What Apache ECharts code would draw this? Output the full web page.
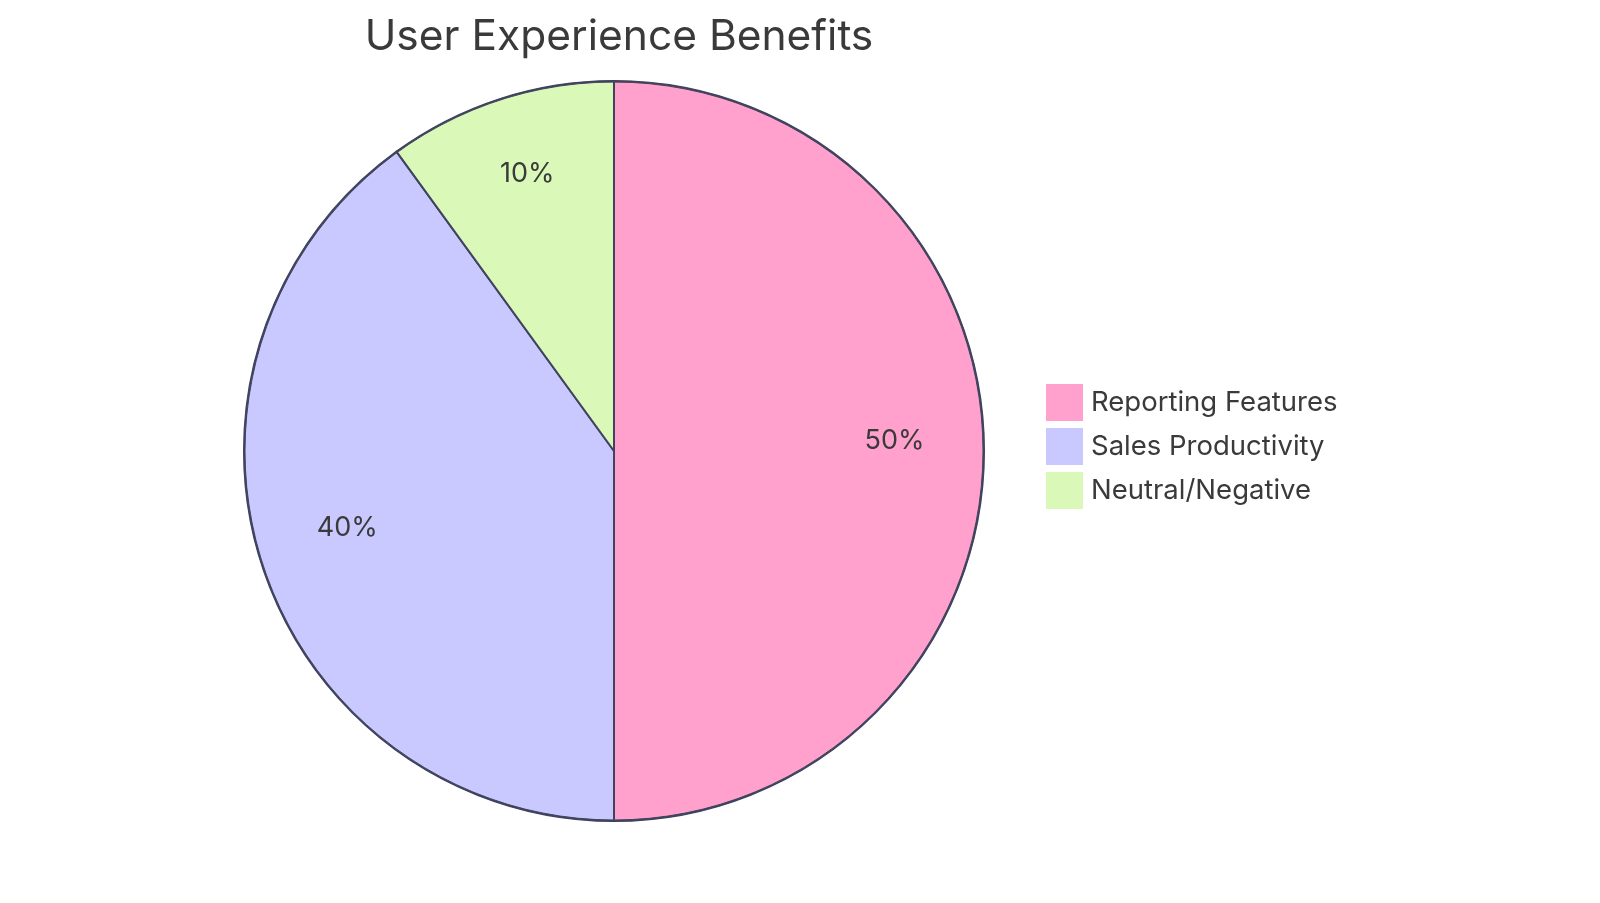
<!DOCTYPE html>
<html>
<head>
<meta charset="utf-8">
<script src="https://cdn.jsdelivr.net/npm/echarts@6/dist/echarts.min.js"></script>
<style>
  html, body { margin: 0; padding: 0; background: #fff; }
  #chart { width: 1600px; height: 903px; }
</style>
</head>
<body>
<div id="chart"></div>
<script>
// chart data
var titleText = 'User Experience Benefits';
var categories = ['Reporting Features', 'Sales Productivity', 'Neutral/Negative'];
var values = [50, 40, 10];
var colors = ['#FFA1CC', '#C9C9FF', '#DAF9B9'];

var FONT = 'Inter, "Noto Sans", sans-serif';
var TEXT = '#3a3a3a';
var STROKE = '#40435e';

var chart = echarts.init(document.getElementById('chart'));

var total = values.reduce(function (a, b) { return a + b; }, 0);
var sliceData = categories.map(function (name, i) {
    return { name: name, value: values[i], itemStyle: { color: colors[i] } };
});

chart.setOption({
    animation: false,
    title: {
        text: titleText,
        left: 614,
        top: 11,
        textAlign: 'center',
        textStyle: { fontFamily: FONT, fontSize: 42.5, fontWeight: 'normal', color: TEXT }
    },
    legend: {
        orient: 'vertical',
        left: 1041,
        top: 379,
        itemWidth: 37,
        itemHeight: 37,
        itemGap: 7,
        icon: 'rect',
        selectedMode: false,
        data: categories,
        itemStyle: { borderWidth: 0 },
        textStyle: { fontFamily: FONT, fontSize: 27.5, color: TEXT, padding: [0, 0, 0, 3] }
    },
    series: [{
        type: 'pie',
        center: [614, 451],
        radius: 370,
        startAngle: 90,
        clockwise: true,
        silent: true,
        label: { show: false },
        labelLine: { show: false },
        itemStyle: { borderColor: STROKE, borderWidth: 2 },
        data: sliceData
    }, {
        // label carrier, places percentages at 3/4 of the radius
        type: 'pie',
        center: [614, 451],
        radius: [185, 370],
        startAngle: 90,
        clockwise: true,
        silent: true,
        itemStyle: { color: 'rgba(0,0,0,0)', borderWidth: 0 },
        labelLine: { show: false },
        labelLayout: { dy: -10 },
        label: {
            show: true,
            position: 'inside',
            fontFamily: FONT,
            fontSize: 27,
            color: TEXT,
            formatter: function (p) { return Math.round(p.value / total * 100) + '%'; }
        },
        data: sliceData.map(function (d) { return { name: d.name, value: d.value }; })
    }, {
        // outer ring outline
        type: 'pie',
        center: [614, 451],
        radius: [369, 370],
        silent: true,
        label: { show: false },
        labelLine: { show: false },
        itemStyle: { color: 'rgba(0,0,0,0)', borderColor: STROKE, borderWidth: 1 },
        data: [{ name: 'ring', value: 1 }]
    }]
});
</script>
</body>
</html>
